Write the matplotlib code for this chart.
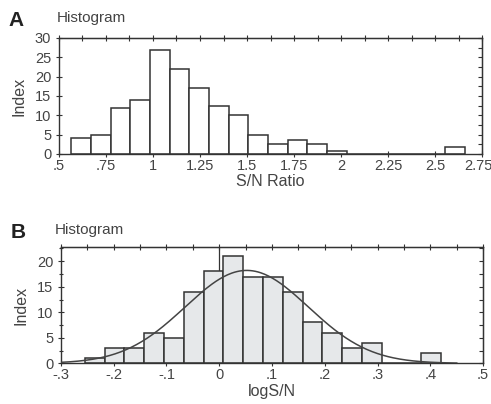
"""Two histograms: S/N ratio and log S/N with a fitted normal curve."""
import numpy as np
import matplotlib
matplotlib.use("Agg")
import matplotlib.pyplot as plt
import matplotlib.transforms as mtransforms
from matplotlib.ticker import MultipleLocator, FixedLocator

plt.rcParams["font.family"] = ["Liberation Sans", "DejaVu Sans"]

# panel A: S/N ratio histogram
sn_start = 0.566
sn_width = 0.1046
sn_counts = [4, 5, 12, 14, 27, 22, 17, 12.5, 10, 5, 2.5, 3.5, 2.5, 0.7,
             0, 0, 0, 0, 0, 1.7]
sn_ticks = [0.5, 0.75, 1, 1.25, 1.5, 1.75, 2, 2.25, 2.5, 2.75]
sn_labels = [".5", ".75", "1", "1.25", "1.5", "1.75", "2", "2.25", "2.5", "2.75"]

# panel B: log S/N histogram
log_start = -0.2545
log_width = 0.0375
log_counts = [1, 3, 3, 6, 5, 14, 18, 21, 17, 17, 14, 8, 6, 3, 4, 0, 0, 2]
log_ticks = [-0.3, -0.2, -0.1, 0, 0.1, 0.2, 0.3, 0.4, 0.5]
log_labels = ["-.3", "-.2", "-.1", "0", ".1", ".2", ".3", ".4", ".5"]


def _style(ax):
    for s in ax.spines.values():
        s.set_linewidth(1.0)
        s.set_color("#333333")
    ax.tick_params(axis="both", which="both", direction="inout", colors="#333333",
                   labelsize=10.5, width=0.8)
    ax.tick_params(axis="both", which="major", length=5)
    ax.tick_params(axis="both", which="minor", length=3)
    ax.tick_params(axis="y", pad=3)
    ax.tick_params(axis="x", pad=1)
    ax.tick_params(labelcolor="#444444")


def _frame_ticks(ax, xminor, yminor):
    top = ax.secondary_xaxis("top")
    top.xaxis.set_major_locator(MultipleLocator(xminor))
    top.tick_params(direction="inout", length=4, width=0.8, colors="#333333",
                    labeltop=False)
    right = ax.secondary_yaxis("right")
    right.yaxis.set_major_locator(MultipleLocator(yminor))
    right.tick_params(direction="in", length=3, width=0.8, colors="#333333",
                      labelright=False)


fig = plt.figure(figsize=(4.91, 4.04), dpi=100)

# ---- A ----
ax1 = fig.add_axes([0.120, 0.619, 0.862, 0.287])
sn_edges = sn_start + sn_width * np.arange(len(sn_counts))
ax1.bar(sn_edges, sn_counts, width=sn_width, align="edge", facecolor="white",
        edgecolor="#333333", linewidth=1.1, zorder=2)
ax1.set_xlim(0.5, 2.75)
ax1.set_ylim(0, 30)
ax1.xaxis.set_major_locator(FixedLocator(sn_ticks))
ax1.set_xticklabels(sn_labels)
ax1.yaxis.set_major_locator(MultipleLocator(5))
_style(ax1)
_frame_ticks(ax1, 0.125, 2.5)
# keep the last tick label inside the figure
last = ax1.get_xticklabels()[-1]
last.set_transform(last.get_transform() +
                   mtransforms.ScaledTranslation(-4 / 100, 0, fig.dpi_scale_trans))
ax1.set_xlabel("S/N Ratio", fontsize=11.5, color="#444444", labelpad=1)
ax1.set_ylabel("Index", fontsize=11.5, color="#444444", labelpad=6)
fig.text(0.018, 0.935, "A", fontsize=15, fontweight="bold", color="#222222")
fig.text(0.116, 0.945, "Histogram", fontsize=11, color="#444444")

# ---- B ----
ax2 = fig.add_axes([0.124, 0.1007, 0.860, 0.288])
log_edges = log_start + log_width * np.arange(len(log_counts))
ax2.axvline(0, color="#333333", linewidth=0.9, zorder=1)
ax2.bar(log_edges, log_counts, width=log_width, align="edge", facecolor="#e6e8ea",
        edgecolor="#333333", linewidth=1.1, zorder=2)
# normal curve fitted to the binned data
centers = log_edges + log_width / 2
w = np.array(log_counts, dtype=float)
mu = np.sum(w * centers) / w.sum()
sd = np.sqrt(np.sum(w * (centers - mu) ** 2) / w.sum())
xs = np.linspace(-0.3, 0.45, 300)
ys = w.sum() * log_width / (sd * np.sqrt(2 * np.pi)) * np.exp(-0.5 * ((xs - mu) / sd) ** 2)
ax2.plot(xs, ys, color="#444444", linewidth=1.1, zorder=3)
ax2.set_xlim(-0.3, 0.5)
ax2.set_ylim(0, 22.8)
ax2.xaxis.set_major_locator(FixedLocator(log_ticks))
ax2.set_xticklabels(log_labels)
ax2.yaxis.set_major_locator(MultipleLocator(5))
ax2.yaxis.set_minor_locator(MultipleLocator(2.5))
_style(ax2)
_frame_ticks(ax2, 0.05, 2.5)
ax2.set_xlabel("logS/N", fontsize=11.5, color="#444444", labelpad=1)
ax2.set_ylabel("Index", fontsize=11.5, color="#444444", labelpad=6)
fig.text(0.022, 0.41, "B", fontsize=15, fontweight="bold", color="#222222")
fig.text(0.112, 0.422, "Histogram", fontsize=11, color="#444444")

fig.savefig("out.png", dpi=100)
